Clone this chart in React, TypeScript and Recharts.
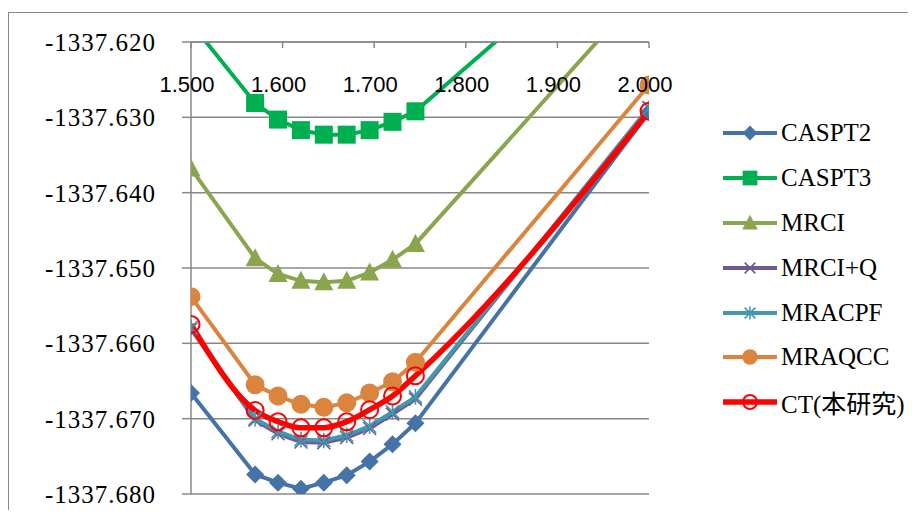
import React from "react";
import { LineChart, Line, XAxis, YAxis, CartesianGrid, Legend } from "recharts";

// bond length (x) and energies per method
const X_VALUES = [1.5, 1.57, 1.595, 1.62, 1.645, 1.67, 1.695, 1.72, 1.745, 2.0];
const X_TICKS = [1.5, 1.6, 1.7, 1.8, 1.9, 2.0];
const Y_TICKS = [-1337.68, -1337.67, -1337.66, -1337.65, -1337.64, -1337.63, -1337.62];

const CASPT2 = [-1337.6666, -1337.6774, -1337.6785, -1337.6793, -1337.6785, -1337.6775, -1337.6757, -1337.6734, -1337.6706, -1337.6293];
const CASPT3 = [-1337.6175, -1337.6281, -1337.6303, -1337.6317, -1337.6323, -1337.6323, -1337.6317, -1337.6306, -1337.6292, -1337.6023];
const MRCI = [-1337.6368, -1337.6487, -1337.6508, -1337.6517, -1337.6519, -1337.6517, -1337.6506, -1337.6489, -1337.6468, -1337.6123];
const MRCIQ = [-1337.6581, -1337.6702, -1337.672, -1337.6731, -1337.6732, -1337.6725, -1337.6713, -1337.6694, -1337.6674, -1337.6287];
const MRACPF = [-1337.6579, -1337.67, -1337.6717, -1337.6728, -1337.6729, -1337.6722, -1337.671, -1337.6691, -1337.6671, -1337.6288];
const MRAQCC = [-1337.6538, -1337.6655, -1337.667, -1337.6681, -1337.6685, -1337.6679, -1337.6666, -1337.6651, -1337.6625, -1337.6257];
const CT = [-1337.6575, -1337.6689, -1337.6704, -1337.6712, -1337.6712, -1337.6704, -1337.6688, -1337.667, -1337.6643, -1337.6292];

const Y_MAX = -1337.62;
const GRID = "#888888";
const SERIF = '"Liberation Serif", "Times New Roman", "Noto Sans CJK JP", serif';

type Shape = "diamond" | "square" | "triangle" | "x" | "star" | "circle" | "ring";

const SERIES: { key: string; name: string; values: number[]; color: string; shape: Shape; width: number; curve: "linear" | "monotone" }[] = [
  { key: "caspt2", name: "CASPT2", values: CASPT2, color: "#4572A7", shape: "diamond", width: 4, curve: "linear" },
  { key: "caspt3", name: "CASPT3", values: CASPT3, color: "#00B050", shape: "square", width: 4, curve: "linear" },
  { key: "mrci", name: "MRCI", values: MRCI, color: "#89A54E", shape: "triangle", width: 4, curve: "linear" },
  { key: "mrciq", name: "MRCI+Q", values: MRCIQ, color: "#71588F", shape: "x", width: 4, curve: "linear" },
  { key: "mracpf", name: "MRACPF", values: MRACPF, color: "#4198AF", shape: "star", width: 4, curve: "linear" },
  { key: "mraqcc", name: "MRAQCC", values: MRAQCC, color: "#DB843D", shape: "circle", width: 4, curve: "linear" },
  { key: "ct", name: "CT(本研究)", values: CT, color: "#FF0000", shape: "ring", width: 5.5, curve: "monotone" },
];

const rows = X_VALUES.map((x, i) => {
  const row: Record<string, number> = { x };
  SERIES.forEach((s) => (row[s.key] = s.values[i]));
  return row;
});

function Marker({ shape, cx, cy, color, k = 1 }: { shape: Shape; cx: number; cy: number; color: string; k?: number }) {
  switch (shape) {
    case "diamond": {
      const h = 9 * k;
      return <path d={`M${cx},${cy - h}L${cx + h},${cy}L${cx},${cy + h}L${cx - h},${cy}Z`} fill={color} />;
    }
    case "square": {
      const h = 9 * k;
      return <rect x={cx - h} y={cy - h} width={2 * h} height={2 * h} fill={color} />;
    }
    case "triangle": {
      const h = 9.5 * k;
      return <path d={`M${cx},${cy - 10 * k}L${cx + h},${cy + 8 * k}L${cx - h},${cy + 8 * k}Z`} fill={color} />;
    }
    case "x": {
      const h = 6.5 * k;
      return (
        <g stroke={color} strokeWidth={1.6}>
          <line x1={cx - h} y1={cy - h} x2={cx + h} y2={cy + h} />
          <line x1={cx - h} y1={cy + h} x2={cx + h} y2={cy - h} />
        </g>
      );
    }
    case "star": {
      const h = 6.5 * k;
      return (
        <g stroke={color} strokeWidth={1.6}>
          <line x1={cx - h} y1={cy - h} x2={cx + h} y2={cy + h} />
          <line x1={cx - h} y1={cy + h} x2={cx + h} y2={cy - h} />
          <line x1={cx} y1={cy - h * 1.2} x2={cx} y2={cy + h * 1.2} />
        </g>
      );
    }
    case "circle":
      return <circle cx={cx} cy={cy} r={9.5 * k} fill={color} />;
    default:
      return <circle cx={cx} cy={cy} r={8.5 * k} fill="none" stroke={color} strokeWidth={2} />;
  }
}

function renderLegend() {
  return (
    <div style={{ fontFamily: SERIF, fontSize: 25, color: "#000" }}>
      {SERIES.map((s) => (
        <div key={s.key} style={{ height: 44.8, display: "flex", alignItems: "center" }}>
          <svg width={58} height={24} style={{ flex: "none" }}>
            <line x1={0} y1={12} x2={54} y2={12} stroke={s.color} strokeWidth={s.width} />
            <Marker shape={s.shape} cx={27} cy={12} color={s.color} k={0.82} />
          </svg>
          <span style={{ whiteSpace: "nowrap" }}>{s.name}</span>
        </div>
      ))}
    </div>
  );
}

export default function App() {
  return (
    <div style={{ position: "relative", width: 908, height: 502 }}>
      <div
        style={{
          position: "absolute",
          left: 0,
          top: 4,
          width: 908,
          height: 498,
          boxSizing: "border-box",
          borderTop: `1.5px solid ${GRID}`,
          borderLeft: `1.5px solid ${GRID}`,
        }}
      />
      <div style={{ position: "absolute", left: 0, top: 0 }}>
        <LineChart width={908} height={502} data={rows} margin={{ top: 34, right: 267, bottom: 16, left: 0 }}>
          <CartesianGrid vertical={false} stroke={GRID} strokeWidth={1.5} />
          <XAxis
            type="number"
            dataKey="x"
            domain={[1.5, 2.0]}
            ticks={X_TICKS}
            interval={0}
            orientation="top"
            mirror
            height={30}
            allowDataOverflow
            tickSize={6}
            tickMargin={28}
            tickFormatter={(v: number) => v.toFixed(3)}
            axisLine={{ stroke: GRID, strokeWidth: 1.5 }}
            tickLine={{ stroke: GRID, strokeWidth: 1.5 }}
            tick={{ fill: "#000", fontSize: 22, fontFamily: '"Liberation Sans", Arial, sans-serif', dx: -4 }}
          />
          <YAxis
            type="number"
            domain={[-1337.68, -1337.62]}
            ticks={Y_TICKS}
            interval={0}
            allowDataOverflow
            width={183}
            tickSize={9}
            tickMargin={26}
            tickFormatter={(v: number) => v.toFixed(3)}
            axisLine={{ stroke: GRID, strokeWidth: 1.5 }}
            tickLine={{ stroke: GRID, strokeWidth: 1.5 }}
            tick={{ fill: "#000", fontSize: 25, fontFamily: SERIF, letterSpacing: 1 }}
          />
          <Legend
            layout="vertical"
            align="center"
            verticalAlign="middle"
            wrapperStyle={{ left: 715, top: 103, width: 200 }}
            content={renderLegend}
          />
          {SERIES.map((s) => (
            <Line
              key={s.key}
              type={s.curve}
              dataKey={s.key}
              name={s.name}
              stroke={s.color}
              strokeWidth={s.width}
              isAnimationActive={false}
              dot={(p: any) =>
                p.value > Y_MAX ? (
                  <g key={`${s.key}-${p.index}`} />
                ) : (
                  <g key={`${s.key}-${p.index}`}>
                    <Marker shape={s.shape} cx={p.cx} cy={p.cy} color={s.color} />
                  </g>
                )
              }
              activeDot={false}
            />
          ))}
        </LineChart>
      </div>
    </div>
  );
}
